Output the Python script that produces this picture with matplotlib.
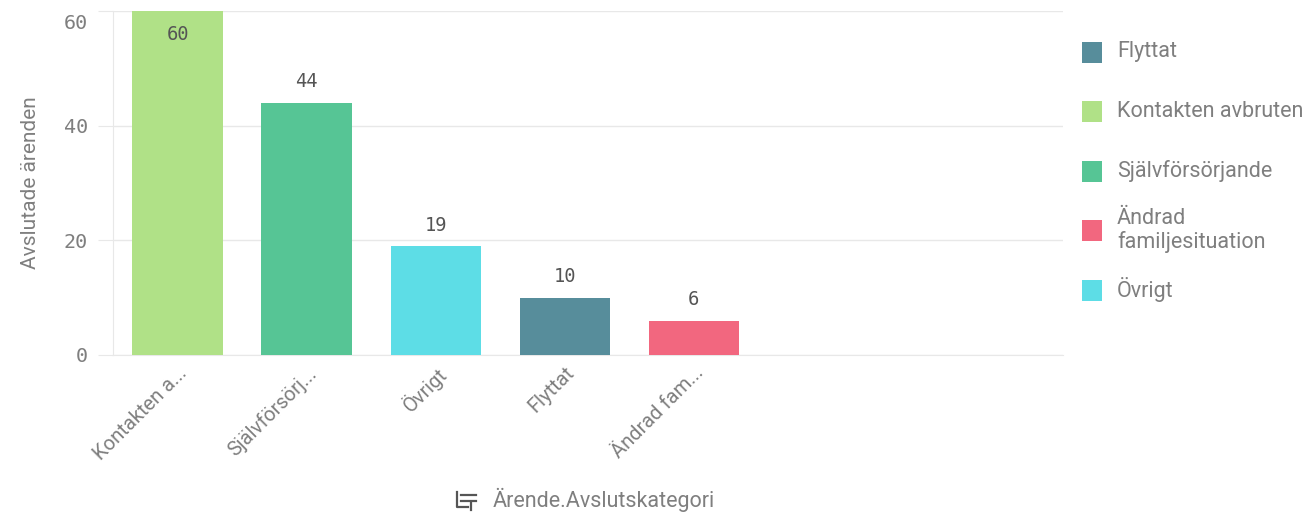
import matplotlib.pyplot as plt
from matplotlib.patches import Rectangle
from matplotlib.lines import Line2D
from matplotlib.transforms import ScaledTranslation

categories = ["Kontakten avbruten", "Självförsörjande", "Övrigt", "Flyttat", "Ändrad familjesituation"]
tick_labels = ["Kontakten a...", "Självförsörj...", "Övrigt", "Flyttat", "Ändrad fam..."]
values = [60, 44, 19, 10, 6]
colors = {
    "Flyttat": "#578d9b",
    "Kontakten avbruten": "#b0e187",
    "Självförsörjande": "#56c595",
    "Ändrad familjesituation": "#f2677f",
    "Övrigt": "#5ddde6",
}
legend_order = ["Flyttat", "Kontakten avbruten", "Självförsörjande", "Ändrad familjesituation", "Övrigt"]
legend_labels = ["Flyttat", "Kontakten avbruten", "Självförsörjande", "Ändrad\nfamiljesituation", "Övrigt"]

text_gray = "#7f7f7f"
grid_gray = "#e8e8e8"

fig = plt.figure(figsize=(13.07, 5.13), dpi=100)
ax = fig.add_axes([0.0865, 0.308, 0.7268, 0.6706])

x = list(range(len(categories)))
ax.bar(x, values, width=0.7, color=[colors[c] for c in categories], zorder=3)

# value labels (top bar is clipped, so its label goes inside)
for xi, v in zip(x, values):
    dy = -17 if v >= 58 else 15
    ax.annotate(str(v), (xi, v), xytext=(0, dy), textcoords="offset points",
                ha="center", va="center", family="DejaVu Sans Mono",
                fontsize=13.5, color="#555555", zorder=4)

ax.set_xlim(-0.5, 6.86)
ax.set_ylim(0, 60)
ax.set_yticks([0, 20, 40, 60])
ax.grid(axis="y", color=grid_gray, linewidth=1, zorder=0)

for s in ["top", "right"]:
    ax.spines[s].set_visible(False)
ax.spines["left"].set_color(grid_gray)
ax.spines["bottom"].set_color(grid_gray)

ax.tick_params(axis="y", length=11, color=grid_gray, labelcolor=text_gray, pad=7)
ylabs = ax.get_yticklabels()
for lab in ylabs:
    lab.set_family("DejaVu Sans Mono")
    lab.set_fontsize(14.5)
# top label kept inside the plot area
ylabs[-1].set_transform(ylabs[-1].get_transform() + ScaledTranslation(0, -0.11, fig.dpi_scale_trans))

ax.set_xticks(x)
ax.set_xticklabels(tick_labels, rotation=45, ha="right", rotation_mode="anchor",
                   family="Roboto", fontsize=14.5, color=text_gray)
ax.tick_params(axis="x", length=0, pad=6)

ax.set_ylabel("Avslutade ärenden", family="Roboto", fontsize=15, color=text_gray, labelpad=17)

# x axis title with small icon
fig.text(0.377, 0.026, "Ärende.Avslutskategori", family="Roboto", fontsize=15.5,
         color=text_gray, ha="left", va="center")
icon_c = "#555555"
fig.add_artist(Line2D([0.3495, 0.3495, 0.3580], [0.040, 0.012, 0.012], color=icon_c, lw=1.6))
fig.add_artist(Line2D([0.3530, 0.3645], [0.036, 0.036], color=icon_c, lw=1.6))
fig.add_artist(Line2D([0.3530, 0.3645], [0.024, 0.024], color=icon_c, lw=1.6))
fig.add_artist(Line2D([0.3605, 0.3605], [0.020, 0.006], color=icon_c, lw=1.6))

# legend, evenly spaced rows
y0, step = 1 - 52 / 513, 59.5 / 513
sq_w, sq_h = 20 / 1307, 21 / 513
for i, (key, lab) in enumerate(zip(legend_order, legend_labels)):
    yc = y0 - i * step
    fig.add_artist(Rectangle((1082 / 1307, yc - sq_h / 2), sq_w, sq_h,
                             transform=fig.transFigure, facecolor=colors[key], edgecolor="none"))
    fig.text(1117 / 1307, yc, lab, family="Roboto", fontsize=15.5, color=text_gray,
             ha="left", va="center", linespacing=1.1)

fig.savefig("out.png", dpi=100)
